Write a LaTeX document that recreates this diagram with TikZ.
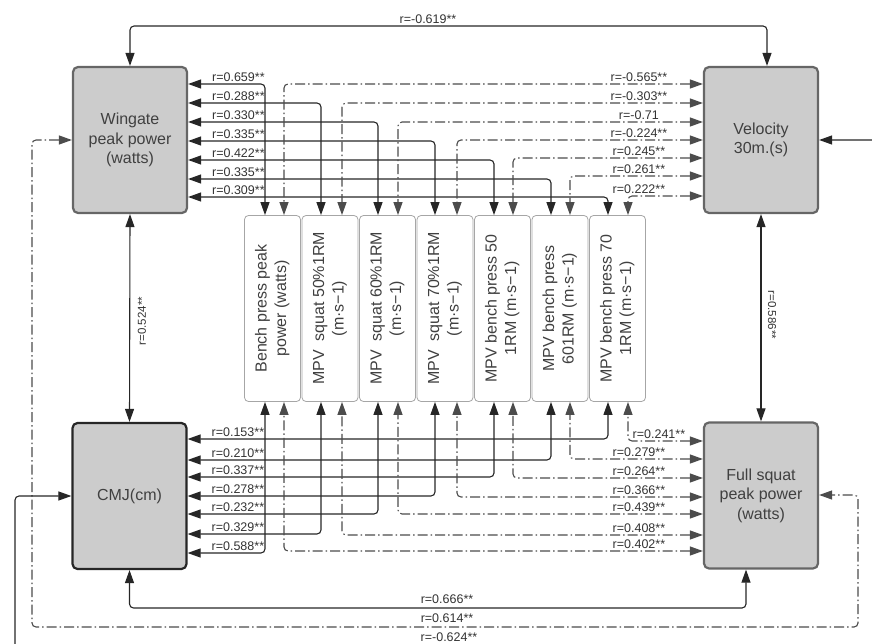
\documentclass[tikz,border=0pt]{standalone}
\usepackage{fontspec}
\setmainfont{Liberation Sans}
\usepackage{graphicx}
\usetikzlibrary{positioning,arrows.meta}
\newcommand{\coltext}[1]{\rotatebox{90}{\begin{tabular}{@{}c@{}}#1\end{tabular}}}

\begin{document}
\begin{tikzpicture}[
  x=1pt, y=-1pt,
  font=\fontsize{16}{19.5}\selectfont,
  node distance=0.7pt,
  big/.style={draw=black!60, line width=2.2pt, rounded corners=5pt,
              fill=gray!40, text=black!75, align=center,
              minimum width=114pt, minimum height=146pt, inner sep=2pt},
  col/.style={draw=black!35, line width=0.8pt, rounded corners=4pt,
              fill=white, text=black!75, minimum width=56pt,
              minimum height=186pt, inner sep=0pt},
  lab/.style={font=\fontsize{12.5}{14}\selectfont, text=black!80, inner sep=1.5pt},
  vlab/.style={font=\fontsize{11.5}{13}\selectfont, text=black!80, inner sep=1pt},
  link/.style={{Triangle[length=13pt,width=9pt]}-{Triangle[length=13pt,width=9pt]},
               line width=1.1pt, draw=black!85, rounded corners=4pt},
  dd/.style={link, draw=black!70, dash pattern=on 10pt off 3pt on 1.5pt off 3pt}
]
\useasboundingbox (0,0) rectangle (872,644);
\clip (0,0) rectangle (872,644);

% the four measures in the corners
\node[big] (wing) at (130,140) {Wingate\\ peak power\\ (watts)};
\node[big] (velo) at (761,140) {Velocity\\ 30m.(s)};
\node[big, draw=black!85] (cmj) at (129.5,496) {CMJ(cm)};
\node[big] (squat) at (761,495.5) {Full squat\\ peak power\\ (watts)};

% the seven tests in the middle
\node[col] (c1) at (272.5,308.5) {\coltext{Bench press peak\\ power (watts)}};
\node[col, right=of c1] (c2) {\coltext{MPV\ \ squat 50\%1RM\\ (m·s−1)}};
\node[col, right=of c2] (c3) {\coltext{MPV\ \ squat 60\%1RM\\ (m·s−1)}};
\node[col, right=of c3] (c4) {\coltext{MPV\ \ squat 70\%1RM\\ (m·s−1)}};
\node[col, right=of c4] (c5) {\coltext{MPV bench press 50\\ 1RM (m·s−1)}};
\node[col, right=of c5] (c6) {\coltext{MPV bench press\\ 601RM (m·s−1)}};
\node[col, right=of c6] (c7) {\coltext{MPV bench press 70\\ 1RM (m·s−1)}};

% corner to corner
\draw[link] (wing.north) -- (wing.north |- 0,26) -| (velo.north -| 767,0);
\node[lab] (t1) at (428,19) {r=-0.619**};
\draw[link] (wing.south) -- (cmj.north);
\node[vlab, rotate=90] (v1) at (142,321) {r=0.524**};
\draw[link] (velo.south) -- (squat.north);
\node[vlab, rotate=-90] (v2) at (772,315) {r=0.586**};
\draw[link] (cmj.south) -- (cmj.south |- 0,608) -| (squat.south -| 746,0);
\node[lab] (b1) at (447,599) {r=0.666**};
\draw[dd] (wing.west) -| (32,627) -| (858,495) -- (squat.east |- 0,495);
\node[lab] (b2) at (447,618) {r=0.614**};
\draw[link] (cmj.west) -| (15,665) -| (890,140) -- (velo.east);
\node[lab] (b3) at (449,637) {r=-0.624**};

% Wingate to the tests
\draw[link] (wing.east |- 0,84) node[lab, anchor=south west, xshift=22pt] (lw1) {r=0.659**} -| (c1.north -| 265,0);
\draw[link] (wing.east |- 0,103) node[lab, anchor=south west, xshift=22pt] (lw2) {r=0.288**} -| (c2.north -| 321,0);
\draw[link] (wing.east |- 0,122) node[lab, anchor=south west, xshift=22pt] (lw3) {r=0.330**} -| (c3.north -| 378,0);
\draw[link] (wing.east |- 0,141) node[lab, anchor=south west, xshift=22pt] (lw4) {r=0.335**} -| (c4.north -| 435,0);
\draw[link] (wing.east |- 0,160) node[lab, anchor=south west, xshift=22pt] (lw5) {r=0.422**} -| (c5.north -| 494,0);
\draw[link] (wing.east |- 0,179) node[lab, anchor=south west, xshift=22pt] (lw6) {r=0.335**} -| (c6.north -| 551,0);
\draw[link] (wing.east |- 0,197) node[lab, anchor=south west, xshift=22pt] (lw7) {r=0.309**} -| (c7.north -| 608,0);

% Velocity to the tests
\draw[dd] (velo.west |- 0,84) node[lab, anchor=south, xshift=-64pt] (lv1) {r=-0.565**} -| (c1.north -| 284,0);
\draw[dd] (velo.west |- 0,103) node[lab, anchor=south, xshift=-64pt] (lv2) {r=-0.303**} -| (c2.north -| 342,0);
\draw[dd] (velo.west |- 0,122) node[lab, anchor=south, xshift=-64pt] (lv3) {r=-0.71} -| (c3.north -| 398,0);
\draw[dd] (velo.west |- 0,140) node[lab, anchor=south, xshift=-64pt] (lv4) {r=-0.224**} -| (c4.north -| 457,0);
\draw[dd] (velo.west |- 0,158) node[lab, anchor=south, xshift=-64pt] (lv5) {r=0.245**} -| (c5.north -| 513,0);
\draw[dd] (velo.west |- 0,176) node[lab, anchor=south, xshift=-64pt] (lv6) {r=0.261**} -| (c6.north -| 570,0);
\draw[dd] (velo.west |- 0,196) node[lab, anchor=south, xshift=-64pt] (lv7) {r=0.222**} -| (c7.north -| 628,0);

% CMJ to the tests
\draw[link] (cmj.east |- 0,439) node[lab, anchor=south west, xshift=22pt] (lc7) {r=0.153**} -| (c7.south -| 608,0);
\draw[link] (cmj.east |- 0,460) node[lab, anchor=south west, xshift=22pt] (lc6) {r=0.210**} -| (c6.south -| 551,0);
\draw[link] (cmj.east |- 0,477) node[lab, anchor=south west, xshift=22pt] (lc5) {r=0.337**} -| (c5.south -| 494,0);
\draw[link] (cmj.east |- 0,496) node[lab, anchor=south west, xshift=22pt] (lc4) {r=0.278**} -| (c4.south -| 435,0);
\draw[link] (cmj.east |- 0,514) node[lab, anchor=south west, xshift=22pt] (lc3) {r=0.232**} -| (c3.south -| 378,0);
\draw[link] (cmj.east |- 0,534) node[lab, anchor=south west, xshift=22pt] (lc2) {r=0.329**} -| (c2.south -| 321,0);
\draw[link] (cmj.east |- 0,553) node[lab, anchor=south west, xshift=22pt] (lc1) {r=0.588**} -| (c1.south -| 265,0);

% Full squat to the tests
\draw[dd] (squat.west |- 0,441) node[lab, anchor=south, xshift=-44pt] (ls7) {r=0.241**} -| (c7.south -| 628,0);
\draw[dd] (squat.west |- 0,459) node[lab, anchor=south, xshift=-64pt] (ls6) {r=0.279**} -| (c6.south -| 570,0);
\draw[dd] (squat.west |- 0,478) node[lab, anchor=south, xshift=-64pt] (ls5) {r=0.264**} -| (c5.south -| 513,0);
\draw[dd] (squat.west |- 0,497) node[lab, anchor=south, xshift=-64pt] (ls4) {r=0.366**} -| (c4.south -| 457,0);
\draw[dd] (squat.west |- 0,514) node[lab, anchor=south, xshift=-64pt] (ls3) {r=0.439**} -| (c3.south -| 398,0);
\draw[dd] (squat.west |- 0,535) node[lab, anchor=south, xshift=-64pt] (ls2) {r=0.408**} -| (c2.south -| 342,0);
\draw[dd] (squat.west |- 0,551) node[lab, anchor=south, xshift=-64pt] (ls1) {r=0.402**} -| (c1.south -| 284,0);
\end{tikzpicture}
\end{document}
